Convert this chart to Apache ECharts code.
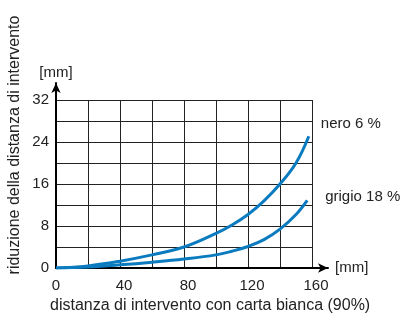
<!DOCTYPE html>
<html><head><meta charset="utf-8">
<script src="https://cdn.jsdelivr.net/npm/echarts@6/dist/echarts.min.js"></script>
<style>html,body{margin:0;padding:0;background:#fff}#c{width:408px;height:314px}</style>
</head><body><div id="c"></div>
<script>
const xNero = [0, 20, 40, 60, 80, 100, 110, 120, 130, 140, 150, 158];
const nero = [0, 0.4, 1.3, 2.5, 4.0, 6.6, 8.2, 10.2, 12.8, 16, 20, 25.1];
const xGrigio = [0, 20, 40, 60, 80, 100, 110, 120, 130, 140, 150, 157];
const grigio = [0, 0.2, 0.6, 1.1, 1.7, 2.5, 3.2, 4.1, 5.4, 7.4, 10.2, 12.9];
const xTickLabels = [0, 40, 80, 120, 160];
const yTickLabels = [0, 8, 16, 24, 32];
const seriesNames = ['nero 6 %', 'grigio 18 %'];
const xTitle = 'distanza di intervento con carta bianca (90%)';
const yTitle = 'riduzione della distanza di intervento';
const unit = '[mm]';

const FONT = 'Liberation Sans, Arial, Helvetica, sans-serif';
const TXT = '#222';
const BLUE = '#0b7bc0';

const chart = echarts.init(document.getElementById('c'), null, {renderer: 'canvas'});
chart.setOption({
  animation: false,
  textStyle: {fontFamily: FONT},
  grid: [
    {left: 56, right: 96, top: 100, bottom: 46, containLabel: false},
    {left: 56, right: 80, top: 83, bottom: 46, containLabel: false}
  ],
  xAxis: [
    {
      type: 'value', gridIndex: 0, min: 0, max: 160, interval: 20,
      axisLine: {show: false}, axisTick: {show: false},
      splitLine: {show: true, lineStyle: {color: '#222', width: 1}},
      axisLabel: {
        fontSize: 15, color: TXT, fontFamily: FONT, margin: 10,
        formatter: v => xTickLabels.includes(v) ? (v === 0 ? '{z|0}' : '{s|' + v + '}') : '',
        rich: {
          z: {fontSize: 15, color: TXT, fontFamily: FONT},
          s: {fontSize: 15, color: TXT, fontFamily: FONT, padding: [0, 0, 0, 8]}
        }
      }
    },
    {
      type: 'value', gridIndex: 1, min: 0, max: 1,
      axisLine: {show: true, symbol: ['none', 'arrow'], symbolSize: [7, 10], lineStyle: {color: '#000', width: 2}},
      axisTick: {show: false}, axisLabel: {show: false}, splitLine: {show: false},
      name: unit, nameLocation: 'end', nameGap: 7,
      nameTextStyle: {fontSize: 15, color: TXT, fontFamily: FONT, verticalAlign: 'middle'}
    }
  ],
  yAxis: [
    {
      type: 'value', gridIndex: 0, min: 0, max: 32, interval: 4,
      axisLine: {show: false}, axisTick: {show: false},
      splitLine: {show: true, lineStyle: {color: '#222', width: 1}},
      axisLabel: {
        fontSize: 15, color: TXT, fontFamily: FONT, margin: 7,
        formatter: v => yTickLabels.includes(v) ? String(v) : ''
      }
    },
    {
      type: 'value', gridIndex: 1, min: 0, max: 1,
      axisLine: {show: true, symbol: ['none', 'arrow'], symbolSize: [7, 10], lineStyle: {color: '#000', width: 2}},
      axisTick: {show: false}, axisLabel: {show: false}, splitLine: {show: false},
      name: unit, nameLocation: 'end', nameGap: 3,
      nameTextStyle: {fontSize: 15, color: TXT, fontFamily: FONT, align: 'center', verticalAlign: 'bottom'}
    }
  ],
  series: [
    {
      name: seriesNames[0], type: 'line', xAxisIndex: 0, yAxisIndex: 0,
      data: xNero.map((x, i) => [x, nero[i]]),
      smooth: 0.4, showSymbol: false,
      lineStyle: {color: BLUE, width: 3},
      endLabel: {show: true, formatter: '{a}', fontSize: 15, color: TXT, fontFamily: FONT, offset: [4, -12]}
    },
    {
      name: seriesNames[1], type: 'line', xAxisIndex: 0, yAxisIndex: 0,
      data: xGrigio.map((x, i) => [x, grigio[i]]),
      smooth: 0.4, showSymbol: false,
      lineStyle: {color: BLUE, width: 3},
      endLabel: {show: true, formatter: '{a}', fontSize: 15, color: TXT, fontFamily: FONT, offset: [10, -3]}
    }
  ],
  graphic: [
    {type: 'text', left: 50, top: 298, style: {text: xTitle, fontSize: 16, fill: TXT, fontFamily: FONT}},
    {type: 'text', x: 15, y: 145, rotation: Math.PI / 2,
     style: {text: yTitle, fontSize: 16, fill: TXT, fontFamily: FONT, align: 'center', verticalAlign: 'middle'}}
  ]
});
</script></body></html>
